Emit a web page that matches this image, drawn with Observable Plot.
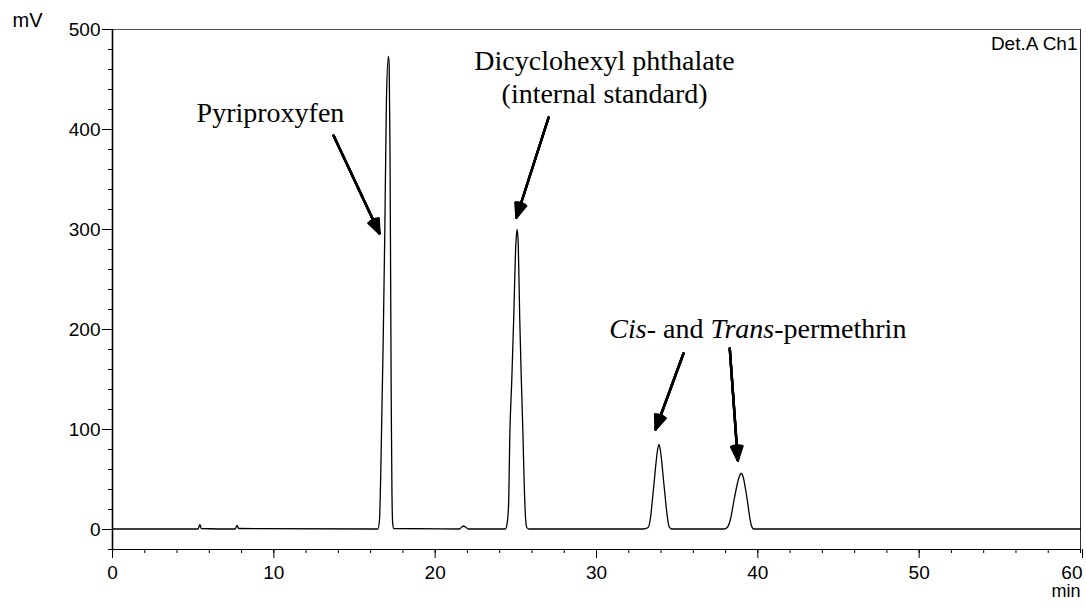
<!DOCTYPE html>
<html><head><meta charset="utf-8">
<script src="https://cdn.jsdelivr.net/npm/d3@7"></script>
<script src="https://cdn.jsdelivr.net/npm/@observablehq/plot@0.6"></script>
<style>body{margin:0;background:#fff} #chart svg{display:block}</style>
</head><body><div id="chart"></div>
<script>
// Chromatogram trace (time in min, signal in mV)
const traceTime = [0, 5.3, 5.42, 5.5, 7.6, 7.72, 7.82,
  16.45, 16.55, 16.62, 16.7, 16.78, 16.88, 16.98, 17.1, 17.15, 17.2, 17.24, 17.28, 17.32, 17.36, 17.42,
  21.5, 21.65, 21.76, 21.88, 22.05,
  24.35, 24.45, 24.55, 24.63, 24.75, 24.87, 25.0, 25.08, 25.15, 25.24, 25.34, 25.44, 25.52, 25.6, 25.68, 25.8,
  32.9, 33.2, 33.35, 33.46, 33.56, 33.66, 33.77, 33.87, 33.97, 34.08, 34.18, 34.28, 34.38, 34.5, 34.65,
  37.9, 38.1, 38.3, 38.52, 38.68, 38.83, 38.97, 39.1, 39.22, 39.35, 39.48, 39.6, 39.75,
  60];
const traceSignal = [0.5, 0.5, 5, 1, 0.5, 4, 1,
  0.5, 10, 50, 120, 190, 300, 430, 473, 465, 380, 250, 120, 40, 8, 1,
  0.5, 2.5, 3.5, 2.5, 0.5,
  0.5, 5, 25, 96, 150, 212, 285, 300, 285, 212, 150, 96, 45, 12, 2, 0.5,
  0.5, 2, 12, 29, 45, 62, 78, 85, 78, 62, 45, 29, 14, 3, 0.5,
  0.5, 2, 10, 29, 42, 52, 56, 52, 42, 29, 14, 4, 0.5,
  0.5];

// Peak annotations
const labelText = ["Pyriproxyfen", "Dicyclohexyl phthalate", "(internal standard)"];
const labelX = [9.79, 30.5, 30.5];
const labelY = [416, 468, 435];
const permethrinLabel = "Cis- and Trans-permethrin";
const permethrinX = 40.0, permethrinY = 200;

const arrowX1 = [13.70, 27.03, 35.39, 38.26];
const arrowY1 = [394, 412, 176, 181];
const arrowX2 = [16.55, 25.04, 33.66, 38.76];
const arrowY2 = [296, 312, 100, 69];

// Axis ticks
const xMajor = [0, 10, 20, 30, 40, 50];
const xLast = [60];
const xMinor = d3.range(0, 61, 2);
const yMajor = [0, 100, 200, 300, 400, 500];
const yMinor = d3.range(-20, 501, 20);

const trace = traceTime.map((t, i) => ({t, mV: traceSignal[i]}));
const labels = labelText.map((text, i) => ({text, x: labelX[i], y: labelY[i]}));
const arrows = arrowX1.map((x1, i) => ({x1, y1: arrowY1[i], x2: arrowX2[i], y2: arrowY2[i]}));

const sans = "'Liberation Sans', Arial, sans-serif";
const serif = "'Liberation Serif', 'Times New Roman', serif";

const arrowMarks = [44, 32, 20, 8].map(a => Plot.arrow(arrows, {
  x1: "x1", y1: "y1", x2: "x2", y2: "y2",
  stroke: "black", strokeWidth: 2.4, headAngle: a, headLength: 9.5
}));

const plot = Plot.plot({
  width: 1086, height: 610,
  marginLeft: 112, marginRight: 6, marginTop: 29, marginBottom: 61,
  style: {background: "#fff", fontFamily: sans, color: "black"},
  x: {domain: [0, 60], axis: null},
  y: {domain: [-20, 500], axis: null},
  marks: [
    Plot.ruleY([500], {stroke: "#555", strokeWidth: 1}),
    Plot.ruleX([60], {stroke: "#333", strokeWidth: 1}),
    Plot.axisX({ticks: xMinor, tickSize: 4, tickFormat: () => "", label: null}),
    Plot.axisX({ticks: xMajor, tickSize: 9, tickPadding: 7, fontSize: 19, label: null}),
    Plot.axisX({ticks: xLast, tickSize: 9, tickPadding: 7, fontSize: 19, label: null, textAnchor: "end", dx: 2}),
    Plot.axisY({ticks: yMinor, tickSize: 4, tickFormat: () => "", label: null}),
    Plot.axisY({ticks: yMajor, tickSize: 10, tickPadding: 2, fontSize: 19, label: null}),
    Plot.ruleX([0], {stroke: "black", strokeWidth: 1.6}),
    Plot.ruleY([-20], {stroke: "black", strokeWidth: 1.2}),
    Plot.line(trace, {x: "t", y: "mV", stroke: "black", strokeWidth: 1.3, curve: "monotone-x"}),
    ...arrowMarks,
    Plot.text(labels, {x: "x", y: "y", text: "text", fontFamily: serif, fontSize: 28,
      textAnchor: "middle", lineAnchor: "middle", fill: "black"}),
    Plot.text([permethrinLabel], {x: () => permethrinX, y: () => permethrinY, text: d => d,
      fontFamily: serif, fontSize: 28, textAnchor: "middle", lineAnchor: "middle", fill: "black"}),
    Plot.text(["mV"], {frameAnchor: "top-left", text: d => d, dx: -100, dy: -9,
      textAnchor: "start", lineAnchor: "middle", fontSize: 20, fill: "black"}),
    Plot.text(["min"], {frameAnchor: "bottom-right", text: d => d, dx: 0, dy: 42,
      textAnchor: "end", lineAnchor: "middle", fontSize: 18, fill: "black"}),
    Plot.text(["Det.A Ch1"], {frameAnchor: "top-right", text: d => d, dx: -3, dy: 14,
      textAnchor: "end", lineAnchor: "middle", fontSize: 19, fill: "black"})
  ]
});

// Italicise "Cis" and "Trans" in the permethrin label
d3.select(plot).selectAll("text").filter(function() {
  return this.textContent === permethrinLabel;
}).each(function() {
  const t = d3.select(this);
  t.text(null);
  [["Cis", true], ["- and ", false], ["Trans", true], ["-permethrin", false]].forEach(([s, it]) => {
    t.append("tspan").attr("font-style", it ? "italic" : "normal").text(s);
  });
});

document.getElementById("chart").append(plot);
</script>
</body></html>
